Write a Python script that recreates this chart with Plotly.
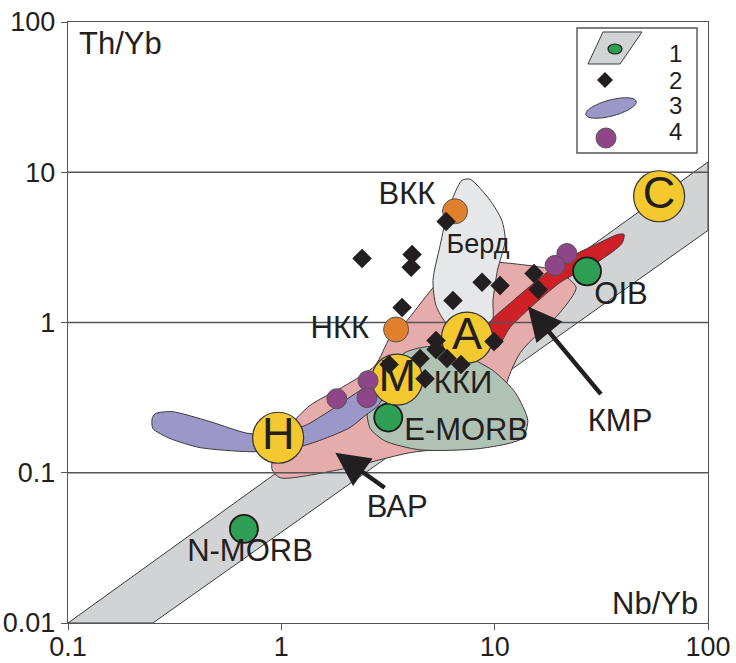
import math
import plotly.graph_objects as go

# ---------------- data (Nb/Yb, Th/Yb) ----------------
# MORB-OIB mantle array
mantle_x = [0.1, 0.25, 100, 100]
mantle_y = [0.01, 0.01, 4.1, 11.7]

# ВАР field (pink)
var_x = [0.903, 0.986, 1.88, 4.01, 7.67, 12.5, 11.2, 13.2, 20.3, 24.1, 20.3, 17.8,
         10.6, 7.67, 5.55, 3.88, 3.23, 2.75, 1.99, 1.36, 1.10, 0.933]
var_y = [0.106, 0.0926, 0.105, 0.136, 0.151, 0.177, 0.352, 0.631, 1.17, 1.71, 2.15, 2.29,
         2.51, 2.51, 1.91, 1.03, 0.794, 0.517, 0.380, 0.280, 0.206, 0.140]

# Берд field (light grey)
berd_x = [6.73, 7.03, 7.67, 9.51, 10.8, 11.2, 10.3, 9.82, 9.72, 7.67, 5.98, 5.31, 5.14, 5.55, 6.05]
berd_y = [8.07, 8.85, 8.99, 6.51, 4.79, 3.52, 2.22, 1.40, 1.03, 0.955, 0.985, 1.30, 1.91, 3.26, 5.58]

# ККИ field (grey-green)
kki_x = [2.52, 2.66, 3.06, 3.80, 4.98, 6.89, 9.82, 12.5, 14.3, 13.4, 8.55, 4.47, 3.06, 2.61]
kki_y = [0.259, 0.326, 0.464, 0.631, 0.692, 0.621, 0.479, 0.341, 0.222, 0.169, 0.145, 0.142, 0.163, 0.197]

# field 3 (lilac band)
band3_x = [0.248, 0.256, 0.308, 0.463, 0.713, 0.986, 1.29, 1.69, 2.22, 2.55, 2.90, 3.06, 2.84,
           2.47, 2.10, 1.60, 1.22, 0.885, 0.713, 0.416, 0.301, 0.250]
band3_y = [0.229, 0.247, 0.255, 0.219, 0.182, 0.191, 0.206, 0.259, 0.336, 0.380, 0.398, 0.341, 0.280,
           0.240, 0.200, 0.169, 0.149, 0.140, 0.138, 0.147, 0.169, 0.197]

# КМР field (red)
kmr_x = [9.51, 11.8, 20.3, 31.2, 37.9, 40.4, 39.5, 31.2, 20.3, 11.8, 10.3, 9.51]
kmr_y = [1.0, 1.34, 2.51, 3.41, 3.86, 3.86, 3.36, 2.59, 1.85, 0.926, 0.681, 0.759]

# samples (2)
samp_x = [5.92, 2.39, 4.10, 4.06, 8.73, 10.6, 15.3, 16.0, 6.38, 3.68, 9.93, 5.31, 5.31,
          4.47, 5.98, 6.95, 3.20, 4.72]
samp_y = [4.71, 2.67, 2.84, 2.33, 1.85, 1.76, 2.12, 1.66, 1.40, 1.26, 0.747, 0.759, 0.661,
          0.575, 0.575, 0.525, 0.525, 0.423]

# samples (4)
s4_x = [1.82, 2.55, 2.52, 21.8, 19.2]
s4_y = [0.311, 0.410, 0.316, 2.88, 2.40]

# reference compositions
morb_names = ["N-MORB", "E-MORB", "OIB"]
morb_x = [0.668, 3.17, 27.1]
morb_y = [0.0423, 0.233, 2.19]

crust_names = ["ВКК", "НКК"]
crust_x = [6.52, 3.45]
crust_y = [5.50, 0.898]

mantle_letters = ["С", "А", "М", "Н"]
letters_x = [59.0, 7.42, 3.49, 0.966]
letters_y = [6.92, 0.794, 0.417, 0.171]

# field labels
label_text = ["ВКК", "НКК", "ККИ", "E-MORB", "OIB", "КМР", "ВАР", "N-MORB"]
label_x = [3.88, 1.88, 7.11, 7.35, 39.1, 38.7, 3.49, 0.713]
label_y = [6.92, 0.885, 0.380, 0.185, 1.49, 0.215, 0.0575, 0.0293]

berd_label = ("Берд", 8.36, 3.21)

# arrows: (head, tail)
arrows = [((14.3, 1.28), (31.9, 0.326)), ((1.79, 0.136), (3.10, 0.0782))]

grid_levels = [0.1, 1, 10]
x_ticks = [0.1, 1, 10, 100]
x_ticktext = ["0.1", "1", "10", "100"]
y_ticks = [0.01, 0.1, 1, 10, 100]
y_ticktext = ["0.01", "0.1", "1", "10", "100"]

# ---------------- styling ----------------
FONT = "Arial, Liberation Sans, Helvetica, sans-serif"
INK = "#231f20"
EDGE = "#3a3a3a"

fig = go.Figure()


def field(x, y, color, smooth=True):
    fig.add_trace(go.Scatter(
        x=list(x) + [x[0]], y=list(y) + [y[0]], mode="lines", fill="toself",
        fillcolor=color,
        line=dict(color=EDGE, width=1, shape="spline" if smooth else "linear", smoothing=0.7),
        hoverinfo="skip", showlegend=False))


field(mantle_x, mantle_y, "#d1d3d4", smooth=False)
field(var_x, var_y, "#e6abab")
field(berd_x, berd_y, "#e6e7e9")
field(kki_x, kki_y, "#afc2b3")
field(band3_x, band3_y, "#9b97c8")
field(kmr_x, kmr_y, "#cf2027")

# horizontal reference lines drawn over the fields
for g in grid_levels:
    fig.add_trace(go.Scatter(x=[x_ticks[0], x_ticks[-1]], y=[g, g], mode="lines",
                             line=dict(color="#555555", width=1.4),
                             hoverinfo="skip", showlegend=False))

# reference composition markers
fig.add_trace(go.Scatter(x=morb_x, y=morb_y, mode="markers",
                         marker=dict(size=28, color="#2f9e55", line=dict(color="#1a1a1a", width=1.8)),
                         hoverinfo="skip", showlegend=False))
fig.add_trace(go.Scatter(x=crust_x, y=crust_y, mode="markers",
                         marker=dict(size=25, color="#e0802d", line=dict(color="#555555", width=1)),
                         hoverinfo="skip", showlegend=False))
fig.add_trace(go.Scatter(x=letters_x, y=letters_y, mode="markers+text", text=mantle_letters,
                         textposition="middle center",
                         textfont=dict(family=FONT, size=45, color=INK),
                         marker=dict(size=51, color="#f4c92f", line=dict(color="#333333", width=1.2)),
                         hoverinfo="skip", showlegend=False))
fig.add_trace(go.Scatter(x=s4_x, y=s4_y, mode="markers",
                         marker=dict(size=20, color="#8f4688", line=dict(color="#555555", width=1)),
                         hoverinfo="skip", showlegend=False))
fig.add_trace(go.Scatter(x=samp_x, y=samp_y, mode="markers",
                         marker=dict(symbol="diamond", size=15, color=INK, line=dict(width=0)),
                         hoverinfo="skip", showlegend=False))

# field labels
fig.add_trace(go.Scatter(x=label_x, y=label_y, mode="text", text=label_text,
                         textposition="middle center",
                         textfont=dict(family=FONT, size=31, color=INK),
                         hoverinfo="skip", showlegend=False))
fig.add_trace(go.Scatter(x=[berd_label[1]], y=[berd_label[2]], mode="text", text=[berd_label[0]],
                         textposition="middle center",
                         textfont=dict(family=FONT, size=27, color=INK),
                         hoverinfo="skip", showlegend=False))

annotations = []
for (hx, hy), (tx, ty) in arrows:
    annotations.append(dict(
        x=math.log10(hx), y=math.log10(hy), ax=math.log10(tx), ay=math.log10(ty),
        xref="x", yref="y", axref="x", ayref="y", text="", showarrow=True,
        arrowhead=2, arrowsize=1.5, arrowwidth=4.5, arrowcolor=INK))

# axis captions inside the frame
annotations.append(dict(x=0.014, y=0.965, xref="paper", yref="paper", text="Th/Yb",
                        showarrow=False, xanchor="left", yanchor="middle",
                        font=dict(family=FONT, size=31, color=INK)))
annotations.append(dict(x=0.988, y=0.033, xref="paper", yref="paper", text="Nb/Yb",
                        showarrow=False, xanchor="right", yanchor="middle",
                        font=dict(family=FONT, size=31, color=INK)))

# ---------------- legend box ----------------
PW, PH, L0, T0 = 640.0, 601.0, 68.0, 22.0


def P(px, py):
    """pixel-style layout position -> paper coordinates"""
    return (px - L0) / PW, 1 - (py - T0) / PH


shapes = []
bx0, by0 = P(577, 153)
bx1, by1 = P(697, 28)
shapes.append(dict(type="rect", xref="paper", yref="paper", x0=bx0, y0=by0, x1=bx1, y1=by1,
                   line=dict(color="#555555", width=1.4), fillcolor="white"))

# item 1: grey parallelogram with green dot
pts = [P(588, 64), P(603, 32), P(642, 32), P(620, 64)]
path = "M " + " L ".join(f"{a:.4f},{b:.4f}" for a, b in pts) + " Z"
shapes.append(dict(type="path", xref="paper", yref="paper", path=path,
                   fillcolor="#d1d3d4", line=dict(color=EDGE, width=1)))
gx0, gy0 = P(608, 54)
gx1, gy1 = P(622, 44)
shapes.append(dict(type="circle", xref="paper", yref="paper", x0=gx0, y0=gy0, x1=gx1, y1=gy1,
                   fillcolor="#2f9e55", line=dict(color="#1a1a1a", width=1.2)))

# item 2: diamond
cx, cy = 605, 80
d = 8
pts = [P(cx - d, cy), P(cx, cy - d), P(cx + d, cy), P(cx, cy + d)]
path = "M " + " L ".join(f"{a:.4f},{b:.4f}" for a, b in pts) + " Z"
shapes.append(dict(type="path", xref="paper", yref="paper", path=path,
                   fillcolor=INK, line=dict(color=INK, width=0)))

# item 3: tilted lilac ellipse
cx, cy, ra, rb, rot = 611, 108, 26, 8, math.radians(-15)
pts = []
for k in range(48):
    t = 2 * math.pi * k / 48
    ex, ey = ra * math.cos(t), rb * math.sin(t)
    pts.append(P(cx + ex * math.cos(rot) - ey * math.sin(rot),
                 cy + ex * math.sin(rot) + ey * math.cos(rot)))
path = "M " + " L ".join(f"{a:.4f},{b:.4f}" for a, b in pts) + " Z"
shapes.append(dict(type="path", xref="paper", yref="paper", path=path,
                   fillcolor="#9b97c8", line=dict(color=EDGE, width=1)))

# item 4: purple dot
cx0, cy0 = P(596, 148)
cx1, cy1 = P(616, 128)
shapes.append(dict(type="circle", xref="paper", yref="paper", x0=cx0, y0=cy0, x1=cx1, y1=cy1,
                   fillcolor="#8f4688", line=dict(color="#555555", width=1)))

for i, py in enumerate([54, 80, 105, 131]):
    lx, ly = P(675, py)
    annotations.append(dict(x=lx, y=ly, xref="paper", yref="paper", text=str(i + 1),
                            showarrow=False, xanchor="center", yanchor="middle",
                            font=dict(family=FONT, size=24, color=INK)))

axis_common = dict(type="log", showgrid=False, zeroline=False, showline=True,
                   linecolor="#555555", linewidth=1.4, mirror=True, automargin=False,
                   ticks="outside", ticklen=6, tickwidth=1.4, tickcolor="#555555",
                   tickfont=dict(family=FONT, size=27, color=INK))

fig.update_layout(
    width=736, height=663,
    margin=dict(l=68, r=28, t=22, b=40),
    paper_bgcolor="white", plot_bgcolor="white",
    xaxis=dict(range=[-1, 2], tickvals=x_ticks, ticktext=x_ticktext,
               ticklabelstandoff=-7, **axis_common),
    yaxis=dict(range=[-2, 2], tickvals=y_ticks, ticktext=y_ticktext, **axis_common),
    shapes=shapes, annotations=annotations, showlegend=False,
)

fig.write_html("out.html")
